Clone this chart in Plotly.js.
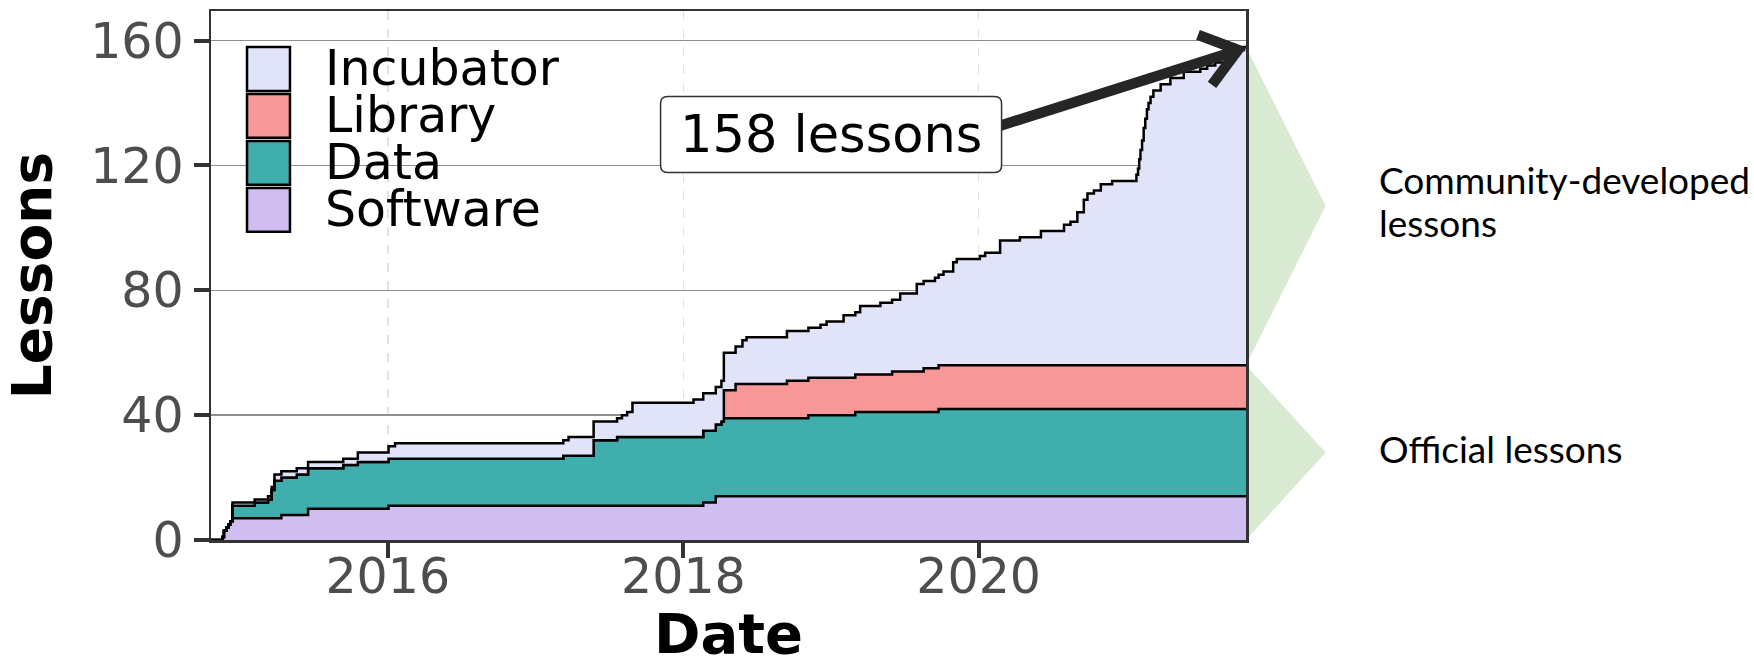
<!DOCTYPE html>
<html>
<head>
<meta charset="utf-8">
<script src="https://cdn.plot.ly/plotly-3.0.1.min.js"></script>
<style>
  html, body { margin: 0; padding: 0; background: #ffffff; }
  #chart { width: 1754px; height: 666px; }
</style>
</head>
<body>
<div id="chart"></div>
<script>
// ---------------- data ----------------
const seriesNames  = ['Software', 'Data', 'Library', 'Incubator'];
const seriesColors = ['#d1bef0', '#40aead', '#f89797', '#e1e3f9'];
const legendOrder  = ['Incubator', 'Library', 'Data', 'Software'];

const xStart = '2014-10-21';
const xEnd   = '2021-10-23';

const softwareDates  = ['2014-10-21','2014-11-18','2014-11-22','2014-11-28','2014-12-03','2014-12-08','2014-12-13',
                        '2015-04-13','2015-06-18','2016-01-03','2018-02-19','2018-03-22'];
const softwareCounts = [0,1,3,4,5,6,7,8,10,11,12,14];

const dataDates  = ['2014-10-21','2014-12-13','2015-02-06','2015-03-11','2015-03-20','2015-03-27','2015-05-21',
                    '2015-09-13','2015-10-19','2017-03-10','2017-05-24','2017-07-21','2018-02-19','2018-04-05',
                    '2018-04-11','2018-11-06','2019-03-02','2019-09-24'];
const dataCounts = [0,4,5,6,9,12,13,14,15,16,21,22,23,24,25,26,27,28];

const libraryDates  = ['2014-10-21','2018-04-11','2018-05-10','2018-09-14','2019-06-01','2019-08-18'];
const libraryCounts = [0,9,11,12,13,14];

const incubatorDates = ['2014-10-21','2014-12-13','2015-03-27','2015-10-19','2016-01-03','2016-01-19','2017-03-23',
  '2017-08-02','2017-08-15','2017-08-28','2018-01-26','2018-04-05','2018-04-11','2018-05-27','2018-06-06',
  '2018-09-14','2018-12-06','2018-12-21','2019-02-01','2019-03-14','2019-05-03','2019-06-21','2019-08-01',
  '2019-09-15','2019-10-06','2019-10-30','2019-11-08','2020-01-04','2020-01-17','2020-02-23','2020-04-12',
  '2020-06-03','2020-07-30','2020-08-15','2020-09-01','2020-09-17','2020-09-26','2020-10-12','2020-10-29',
  '2020-11-26','2021-01-25','2021-01-29','2021-02-01','2021-02-04','2021-02-08','2021-02-12','2021-02-16',
  '2021-02-20','2021-02-24','2021-03-01','2021-03-08','2021-03-26','2021-04-19','2021-05-22','2021-07-02',
  '2021-07-19','2021-08-08','2021-09-02','2021-09-19','2021-10-05','2021-10-18'];
const incubatorCounts = [0,1,2,3,4,5,6,
  7,8,11,12,13,12,14,15,
  16,17,18,20,22,23,25,28,
  29,30,33,34,35,36,40,41,
  43,45,46,49,53,55,56,58,
  59,61,63,66,69,72,76,79,
  82,84,86,88,90,92,94,95,
  96,97,99,100,101,102];

const yTickVals  = [0, 40, 80, 120, 160];
const xTickVals  = ['2016-01-01', '2018-01-01', '2020-01-01'];
const xTickText  = ['2016', '2018', '2020'];
const totalLabel = '158 lessons';
const communityLines = ['Community-developed', 'lessons'];
const officialLabel  = 'Official lessons';

// ---------------- build stacked step series ----------------
const seriesDates  = [softwareDates, dataDates, libraryDates, incubatorDates];
const seriesCounts = [softwareCounts, dataCounts, libraryCounts, incubatorCounts];

function stepValue(dates, counts, d) {
  let v = 0;
  for (let i = 0; i < dates.length; i++) {
    if (dates[i] <= d) v = counts[i]; else break;
  }
  return v;
}
const allDates = Array.from(new Set([xStart].concat(...seriesDates, [xEnd]))).sort();

const traces = seriesNames.map((name, i) => ({
  type: 'scatter',
  mode: 'lines',
  name: name,
  x: allDates,
  y: allDates.map(d => stepValue(seriesDates[i], seriesCounts[i], d)),
  stackgroup: 'one',
  line: { shape: 'hv', color: '#000000', width: 2.5 },
  fillcolor: seriesColors[i],
  hoverinfo: 'skip',
  showlegend: false
}));

const finalTotal = seriesCounts.reduce((s, c) => s + c[c.length - 1], 0);
const finalOfficial = softwareCounts[softwareCounts.length-1] + dataCounts[dataCounts.length-1] + libraryCounts[libraryCounts.length-1];

const yMax = 169.5;
const fy = v => v / yMax;   // value -> paper fraction

// ---------------- decorations ----------------
const shapes = [];
const annotations = [];

// legend background (hides gridlines behind the legend)
shapes.push({ type: 'rect', xref: 'paper', yref: 'paper', x0: 0.002, x1: 0.336, y0: 0.558, y1: 0.968,
  fillcolor: '#ffffff', line: { width: 0 }, layer: 'between' });

// legend keys and labels
legendOrder.forEach((name, k) => {
  const i = seriesNames.indexOf(name);
  const top = 0.932 - k * 0.0888;
  const bot = top - 0.083;
  shapes.push({ type: 'rect', xref: 'paper', yref: 'paper', x0: 0.0348, x1: 0.0763, y0: bot, y1: top,
    fillcolor: seriesColors[i], line: { color: '#000000', width: 2.5 }, layer: 'above' });
  annotations.push({ xref: 'paper', yref: 'paper', x: 0.1082, y: (top + bot) / 2, xanchor: 'left', yanchor: 'middle',
    text: name, showarrow: false, font: { family: 'DejaVu Sans', size: 49, color: '#000000' } });
});

// right-hand green brackets
const apexX = 1.077;
const commMid = (finalTotal + finalOfficial) / 2;
const offMid  = finalOfficial / 2;
shapes.push({ type: 'path', xref: 'paper', yref: 'paper', layer: 'below',
  path: `M 1,${fy(finalTotal)} L ${apexX},${fy(commMid)} L 1,${fy(finalOfficial)} Z`,
  fillcolor: '#d9ead3', line: { width: 0 } });
shapes.push({ type: 'path', xref: 'paper', yref: 'paper', layer: 'below',
  path: `M 1,${fy(finalOfficial)} L ${apexX},${fy(offMid)} L 1,0 Z`,
  fillcolor: '#d9ead3', line: { width: 0 } });
const sideFont = { family: 'Lato', size: 37, color: '#000000' };
annotations.push({ xref: 'paper', yref: 'paper', x: 1.1266, y: fy(commMid), yshift: 27,
  xanchor: 'left', yanchor: 'middle', align: 'left', text: communityLines[0], showarrow: false, font: sideFont });
annotations.push({ xref: 'paper', yref: 'paper', x: 1.1266, y: fy(commMid), yshift: -16,
  xanchor: 'left', yanchor: 'middle', align: 'left', text: communityLines[1], showarrow: false, font: sideFont });
annotations.push({ xref: 'paper', yref: 'paper', x: 1.1266, y: fy(offMid), yshift: 4,
  xanchor: 'left', yanchor: 'middle', align: 'left', text: officialLabel, showarrow: false, font: sideFont });

// arrow to the final total (pixel offsets from the last point)
shapes.push({ type: 'path', xref: 'x', yref: 'y', xsizemode: 'pixel', ysizemode: 'pixel',
  xanchor: xEnd, yanchor: finalTotal, layer: 'above',
  path: 'M -262,-84 L -10,-4 M -48,12 L -8,-3 L -34,-38',
  fillcolor: 'rgba(0,0,0,0)', line: { color: '#262626', width: 10.5 } });

// label box
const bx = 0.5991, by = 0.7665;
shapes.push({ type: 'path', xref: 'paper', yref: 'paper', xsizemode: 'pixel', ysizemode: 'pixel',
  xanchor: bx, yanchor: by, layer: 'above',
  path: 'M -163.5,-38 L 163.5,-38 Q 170.5,-38 170.5,-31 L 170.5,31 Q 170.5,38 163.5,38 L -163.5,38 Q -170.5,38 -170.5,31 L -170.5,-31 Q -170.5,-38 -163.5,-38 Z',
  fillcolor: '#ffffff', line: { color: '#333333', width: 1.5 } });
annotations.push({ xref: 'paper', yref: 'paper', x: bx, y: by, xanchor: 'center', yanchor: 'middle',
  text: totalLabel, showarrow: false, font: { family: 'DejaVu Sans', size: 51, color: '#000000' } });

const layout = {
  width: 1754, height: 666,
  margin: { l: 211, r: 508, t: 11, b: 126, pad: 0 },
  paper_bgcolor: '#ffffff', plot_bgcolor: '#ffffff',
  showlegend: false,
  font: { family: 'DejaVu Sans', color: '#000000' },
  xaxis: {
    type: 'date', range: [xStart, xEnd],
    tickmode: 'array', tickvals: xTickVals, ticktext: xTickText,
    ticks: 'outside', ticklen: 15, tickwidth: 4, tickcolor: '#333333',
    ticklabelstandoff: -23,
    tickfont: { family: 'DejaVu Sans', size: 49, color: '#4d4d4d' },
    showgrid: true, gridcolor: '#e2e2e2', gridwidth: 1.5, griddash: 'dash',
    showline: true, linecolor: '#333333', linewidth: 2.5, mirror: true, zeroline: false,
    title: { text: 'Date', font: { family: 'DejaVu Sans', size: 56, weight: 'bold', color: '#000000' }, standoff: 6 }
  },
  yaxis: {
    range: [0, yMax],
    tickmode: 'array', tickvals: yTickVals,
    ticks: 'outside', ticklen: 15, tickwidth: 4, tickcolor: '#333333',
    tickfont: { family: 'DejaVu Sans', size: 49, color: '#4d4d4d' },
    showgrid: true, gridcolor: '#8f8f8f', gridwidth: 1.5,
    showline: true, linecolor: '#333333', linewidth: 2.5, mirror: true, zeroline: false,
    title: { text: 'Lessons', font: { family: 'DejaVu Sans', size: 55, weight: 'bold', color: '#000000' }, standoff: 21 }
  },
  shapes: shapes,
  annotations: annotations
};

Plotly.newPlot('chart', traces, layout, { displayModeBar: false, staticPlot: true });
</script>
</body>
</html>
